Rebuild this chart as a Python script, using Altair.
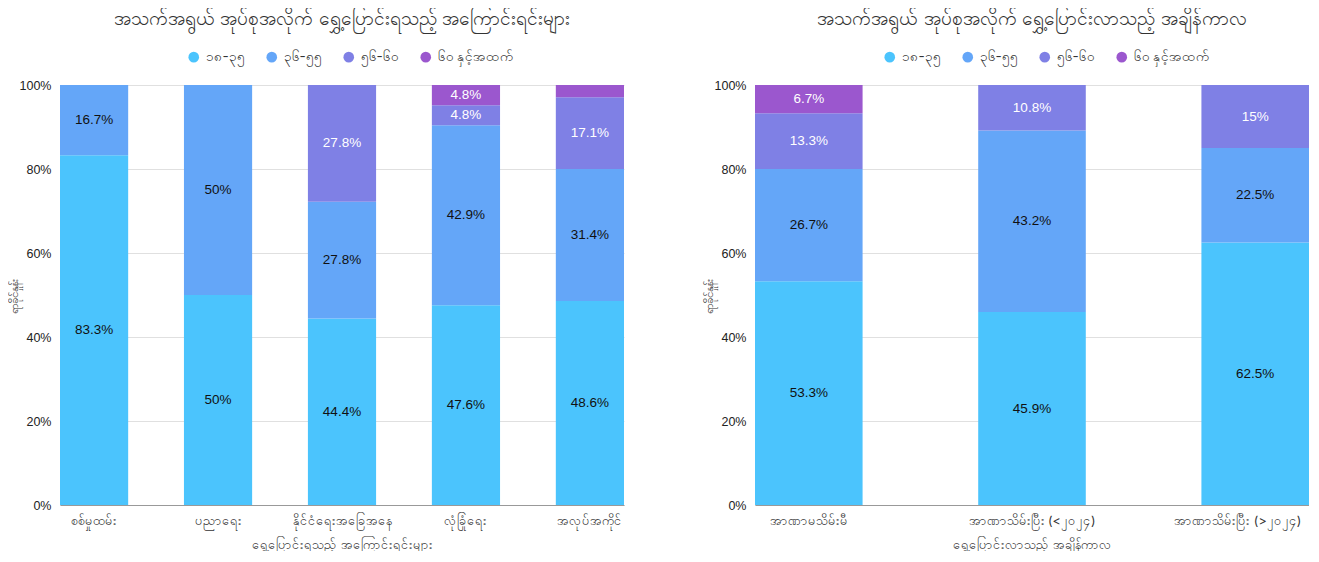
import altair as alt
import pandas as pd

age_groups = ["၁၈-၃၅", "၃၆-၅၅", "၅၆-၆၀", "၆၀ နှင့်အထက်"]
colors = ["#4BC4FD", "#64A6F8", "#7F80E5", "#9B57CE"]

reasons = ["စစ်မှုထမ်း", "ပညာရေး", "နိုင်ငံရေးအခြေအနေ", "လုံခြုံရေး", "အလုပ်အကိုင်"]
reason_18_35 = [83.3, 50, 44.4, 47.6, 48.6]
reason_36_55 = [16.7, 50, 27.8, 42.9, 31.4]
reason_56_60 = [0, 0, 27.8, 4.8, 17.1]
reason_60_up = [0, 0, 0, 4.8, 2.9]

periods = ["အာဏာမသိမ်းမီ", "အာဏာသိမ်းပြီး (<၂၀၂၄)", "အာဏာသိမ်းပြီး (>၂၀၂၄)"]
period_18_35 = [53.3, 45.9, 62.5]
period_36_55 = [26.7, 43.2, 22.5]
period_56_60 = [13.3, 10.8, 15]
period_60_up = [6.7, 0, 0]

title_left = "အသက်အရွယ် အုပ်စုအလိုက် ရွှေ့ပြောင်းရသည့် အကြောင်းရင်းများ"
title_right = "အသက်အရွယ် အုပ်စုအလိုက် ရွှေ့ပြောင်းလာသည့် အချိန်ကာလ"
xtitle_left = "ရွှေ့ပြောင်းရသည့် အကြောင်းရင်းများ"
xtitle_right = "ရွှေ့ပြောင်းလာသည့် အချိန်ကာလ"
ytitle = "ရာခိုင်နှုန်း"

FONT = "Inter"
NUM_FONT = "Liberation Sans"


def make_df(cats, series):
    rows = []
    for gi, (g, vals) in enumerate(zip(age_groups, series)):
        for c, v in zip(cats, vals):
            if v > 0:
                rows.append({"cat": c, "group": g, "order": gi, "value": v})
    return pd.DataFrame(rows)


def panel(cats, series, title, xtitle, width, pad_inner, legend_x, edge_shift=0):
    df = make_df(cats, series)
    base = alt.Chart(df).transform_stack(
        stack="value", groupby=["cat"], sort=[{"field": "order", "order": "ascending"}],
        as_=["y0", "y1"], offset="normalize"
    )
    axis_kw = dict(labelAngle=0, ticks=False, domainColor="#999999",
                   labelColor="#333333", labelFontSize=12.5, labelPadding=9,
                   titleFontSize=12.5, titleColor="#333333", titleFontWeight="normal",
                   titlePadding=12)
    if edge_shift:
        last = cats[-1].replace("'", "\\'")
        test = f"datum.value === '{last}'"
        axis_kw["labelAlign"] = {"condition": {"test": test, "value": "right"}, "value": "center"}
        axis_kw["labelOffset"] = {"condition": {"test": test, "value": edge_shift}, "value": 0}
    xenc = alt.X("cat:N", sort=cats, title=xtitle,
                 scale=alt.Scale(paddingInner=pad_inner, paddingOuter=0),
                 axis=alt.Axis(**axis_kw))
    bars = base.mark_bar().encode(
        x=xenc,
        y=alt.Y("y0:Q", scale=alt.Scale(domain=[0, 1], nice=False), title=ytitle,
                axis=alt.Axis(format=".0%", values=[0, 0.2, 0.4, 0.6, 0.8, 1.0],
                              labelOverlap=False, labelFont=NUM_FONT,
                              ticks=False, domain=False, gridColor="#e0e0e0",
                              labelColor="#222222", labelFontSize=12.5, labelPadding=9,
                              titleFontSize=11.5, titleColor="#333333", titleFontWeight="normal",
                              titlePadding=0)),
        y2="y1:Q",
        color=alt.Color("group:N", sort=age_groups,
                        scale=alt.Scale(domain=age_groups, range=colors),
                        legend=alt.Legend(orient="none", legendX=legend_x, legendY=-35,
                                          direction="horizontal", title=None,
                                          symbolType="circle",
                                          symbolSize=113, symbolOpacity=1,
                                          labelFontSize=13.5, labelColor="#333333",
                                          columnPadding=20, labelOffset=5)),
    )
    text = base.transform_filter("datum.value >= 3").transform_calculate(
        ymid="(datum.y0 + datum.y1) / 2", label="datum.value + '%'"
    ).mark_text(fontSize=13.5, font=NUM_FONT).encode(
        x=alt.X("cat:N", sort=cats),
        y="ymid:Q",
        text="label:N",
        color=alt.condition("datum.order >= 2", alt.value("#ffffff"), alt.value("#111111")),
    )
    return alt.layer(bars, text).properties(
        width=width, height=420,
        title=alt.TitleParams(title, fontSize=19, fontWeight="normal", color="#333333",
                              anchor="middle", offset=21),
    )


left = panel(reasons, [reason_18_35, reason_36_55, reason_56_60, reason_60_up],
             title_left, xtitle_left, 564, 0.45, 127)
right = panel(periods, [period_18_35, period_36_55, period_56_60, period_60_up],
              title_right, xtitle_right, 554, 0.518, 128, edge_shift=46)

chart = alt.hconcat(left, right, spacing=79).resolve_scale(color="independent").configure(
    font=FONT
).configure_view(stroke=None).properties(padding={"left": 0, "top": 2, "right": 0, "bottom": 0})

chart.save("out.html", embed_options={"renderer": "svg", "actions": False})
